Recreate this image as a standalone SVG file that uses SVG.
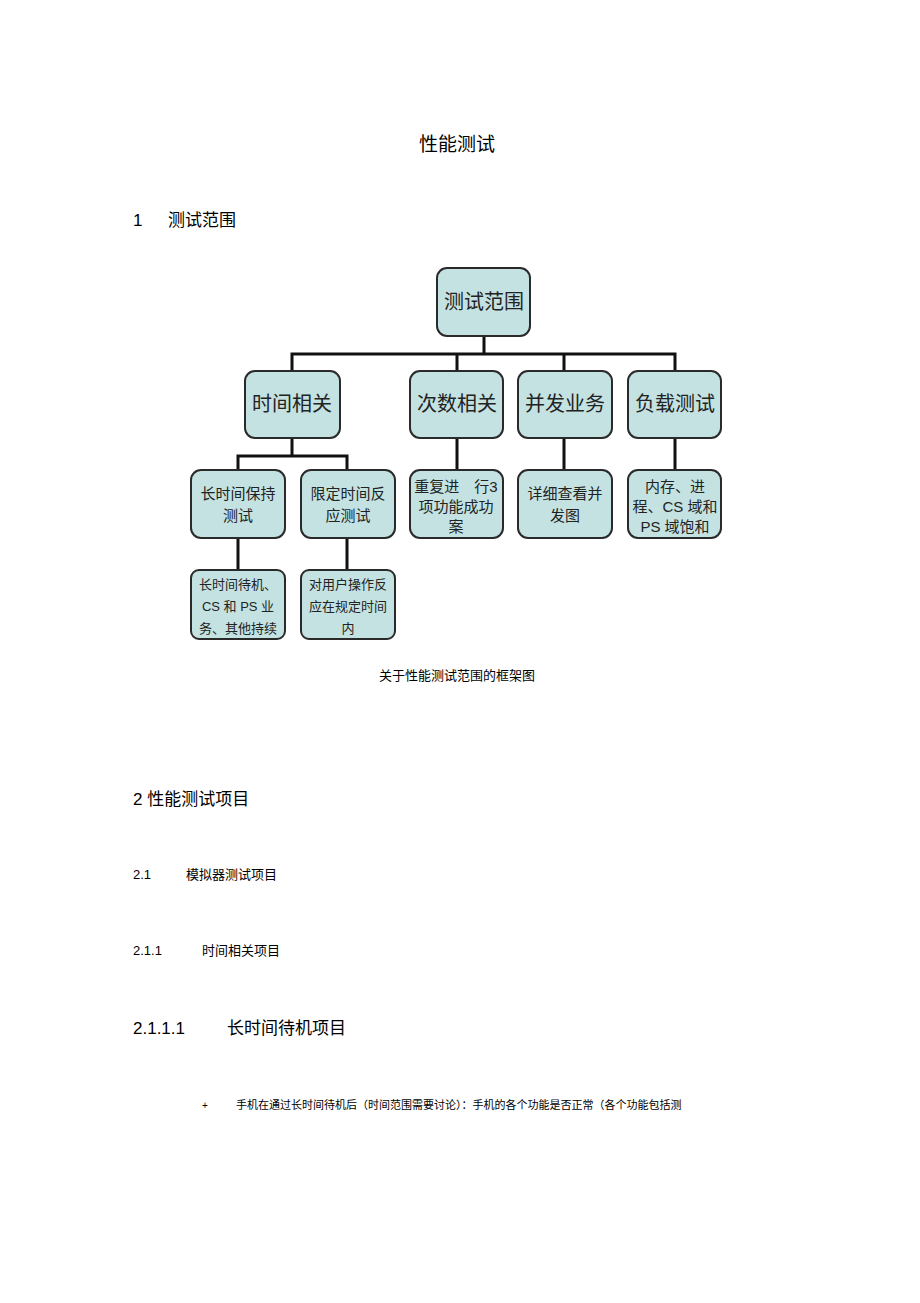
<svg xmlns="http://www.w3.org/2000/svg" width="920" height="1303" viewBox="0 0 920 1303">
<style>
text{font-family:"Liberation Sans","Noto Sans CJK SC",sans-serif;fill:#000}
.b{fill:#c4e2e2;stroke:#2a2a2a;stroke-width:2}
.t{font-size:20px;text-anchor:middle;fill:#222}
.s{font-size:15px;text-anchor:middle;fill:#222}
.x{font-size:13px;text-anchor:middle;fill:#222}
.c{fill:none;stroke:#111;stroke-width:3}
</style>
<rect width="920" height="1303" fill="#fff"/>
<text x="457" y="151" font-size="19" text-anchor="middle">性能测试</text>
<text x="133" y="226" font-size="17">1</text>
<text x="168" y="226" font-size="17">测试范围</text>
<g id="connectors">
<path class="c" d="M484 336V354M292 371V354H675V371M457 354V371M564 354V371"/>
<path class="c" d="M292 438V456M238 470V456H347V470"/>
<path class="c" d="M457 438V470M564 438V470M675 438V470"/>
<path class="c" d="M238 538V570M347 538V570"/>
</g>
<g id="root"><rect class="b" x="437" y="268" width="93" height="68" rx="10"/><text class="t" x="484" y="309">测试范围</text></g>
<g id="n1"><rect class="b" x="245" y="371" width="95" height="67" rx="10"/><text class="t" x="292" y="411">时间相关</text></g>
<g id="n2"><rect class="b" x="410" y="371" width="93" height="67" rx="10"/><text class="t" x="457" y="411">次数相关</text></g>
<g id="n3"><rect class="b" x="518" y="371" width="94" height="67" rx="10"/><text class="t" x="565" y="411">并发业务</text></g>
<g id="n4"><rect class="b" x="628" y="371" width="93" height="67" rx="10"/><text class="t" x="675" y="411">负载测试</text></g>
<g id="n11"><rect class="b" x="191" y="470" width="94" height="68" rx="10"/><text class="s" x="238" y="499">长时间保持</text><text class="s" x="238" y="521">测试</text></g>
<g id="n12"><rect class="b" x="301" y="470" width="94" height="68" rx="10"/><text class="s" x="348" y="499">限定时间反</text><text class="s" x="348" y="521">应测试</text></g>
<g id="n21"><rect class="b" x="410" y="470" width="93" height="68" rx="10"/><text class="s" x="456" y="492">重复进　行3</text><text class="s" x="456" y="512">项功能成功</text><text class="s" x="456" y="532">案</text></g>
<g id="n31"><rect class="b" x="518" y="470" width="94" height="68" rx="10"/><text class="s" x="565" y="499">详细查看并</text><text class="s" x="565" y="521">发图</text></g>
<g id="n41"><rect class="b" x="628" y="470" width="93" height="68" rx="10"/><text class="s" x="675" y="492">内存、进</text><text class="s" x="675" y="512">程、CS 域和</text><text class="s" x="675" y="532">PS 域饱和</text></g>
<g id="n111"><rect class="b" x="191" y="570" width="94" height="69" rx="8"/><text class="x" x="238" y="589">长时间待机、</text><text class="x" x="238" y="611">CS 和 PS 业</text><text class="x" x="238" y="633">务、其他持续</text></g>
<g id="n121"><rect class="b" x="301" y="570" width="94" height="69" rx="8"/><text class="x" x="348" y="589">对用户操作反</text><text class="x" x="348" y="611">应在规定时间</text><text class="x" x="348" y="633">内</text></g>
<text x="457" y="680" font-size="13" text-anchor="middle">关于性能测试范围的框架图</text>
<text x="133" y="805" font-size="17">2 性能测试项目</text>
<text x="133" y="879" font-size="13">2.1</text>
<text x="186" y="879" font-size="13">模拟器测试项目</text>
<text x="133" y="955" font-size="13">2.1.1</text>
<text x="202" y="955" font-size="13">时间相关项目</text>
<text x="133" y="1034" font-size="17">2.1.1.1</text>
<text x="227" y="1034" font-size="17">长时间待机项目</text>
<text x="202" y="1109" font-size="10">+</text>
<text x="236" y="1109" font-size="11">手机在通过长时间待机后（时间范围需要讨论）：手机的各个功能是否正常（各个功能包括测</text>
</svg>
